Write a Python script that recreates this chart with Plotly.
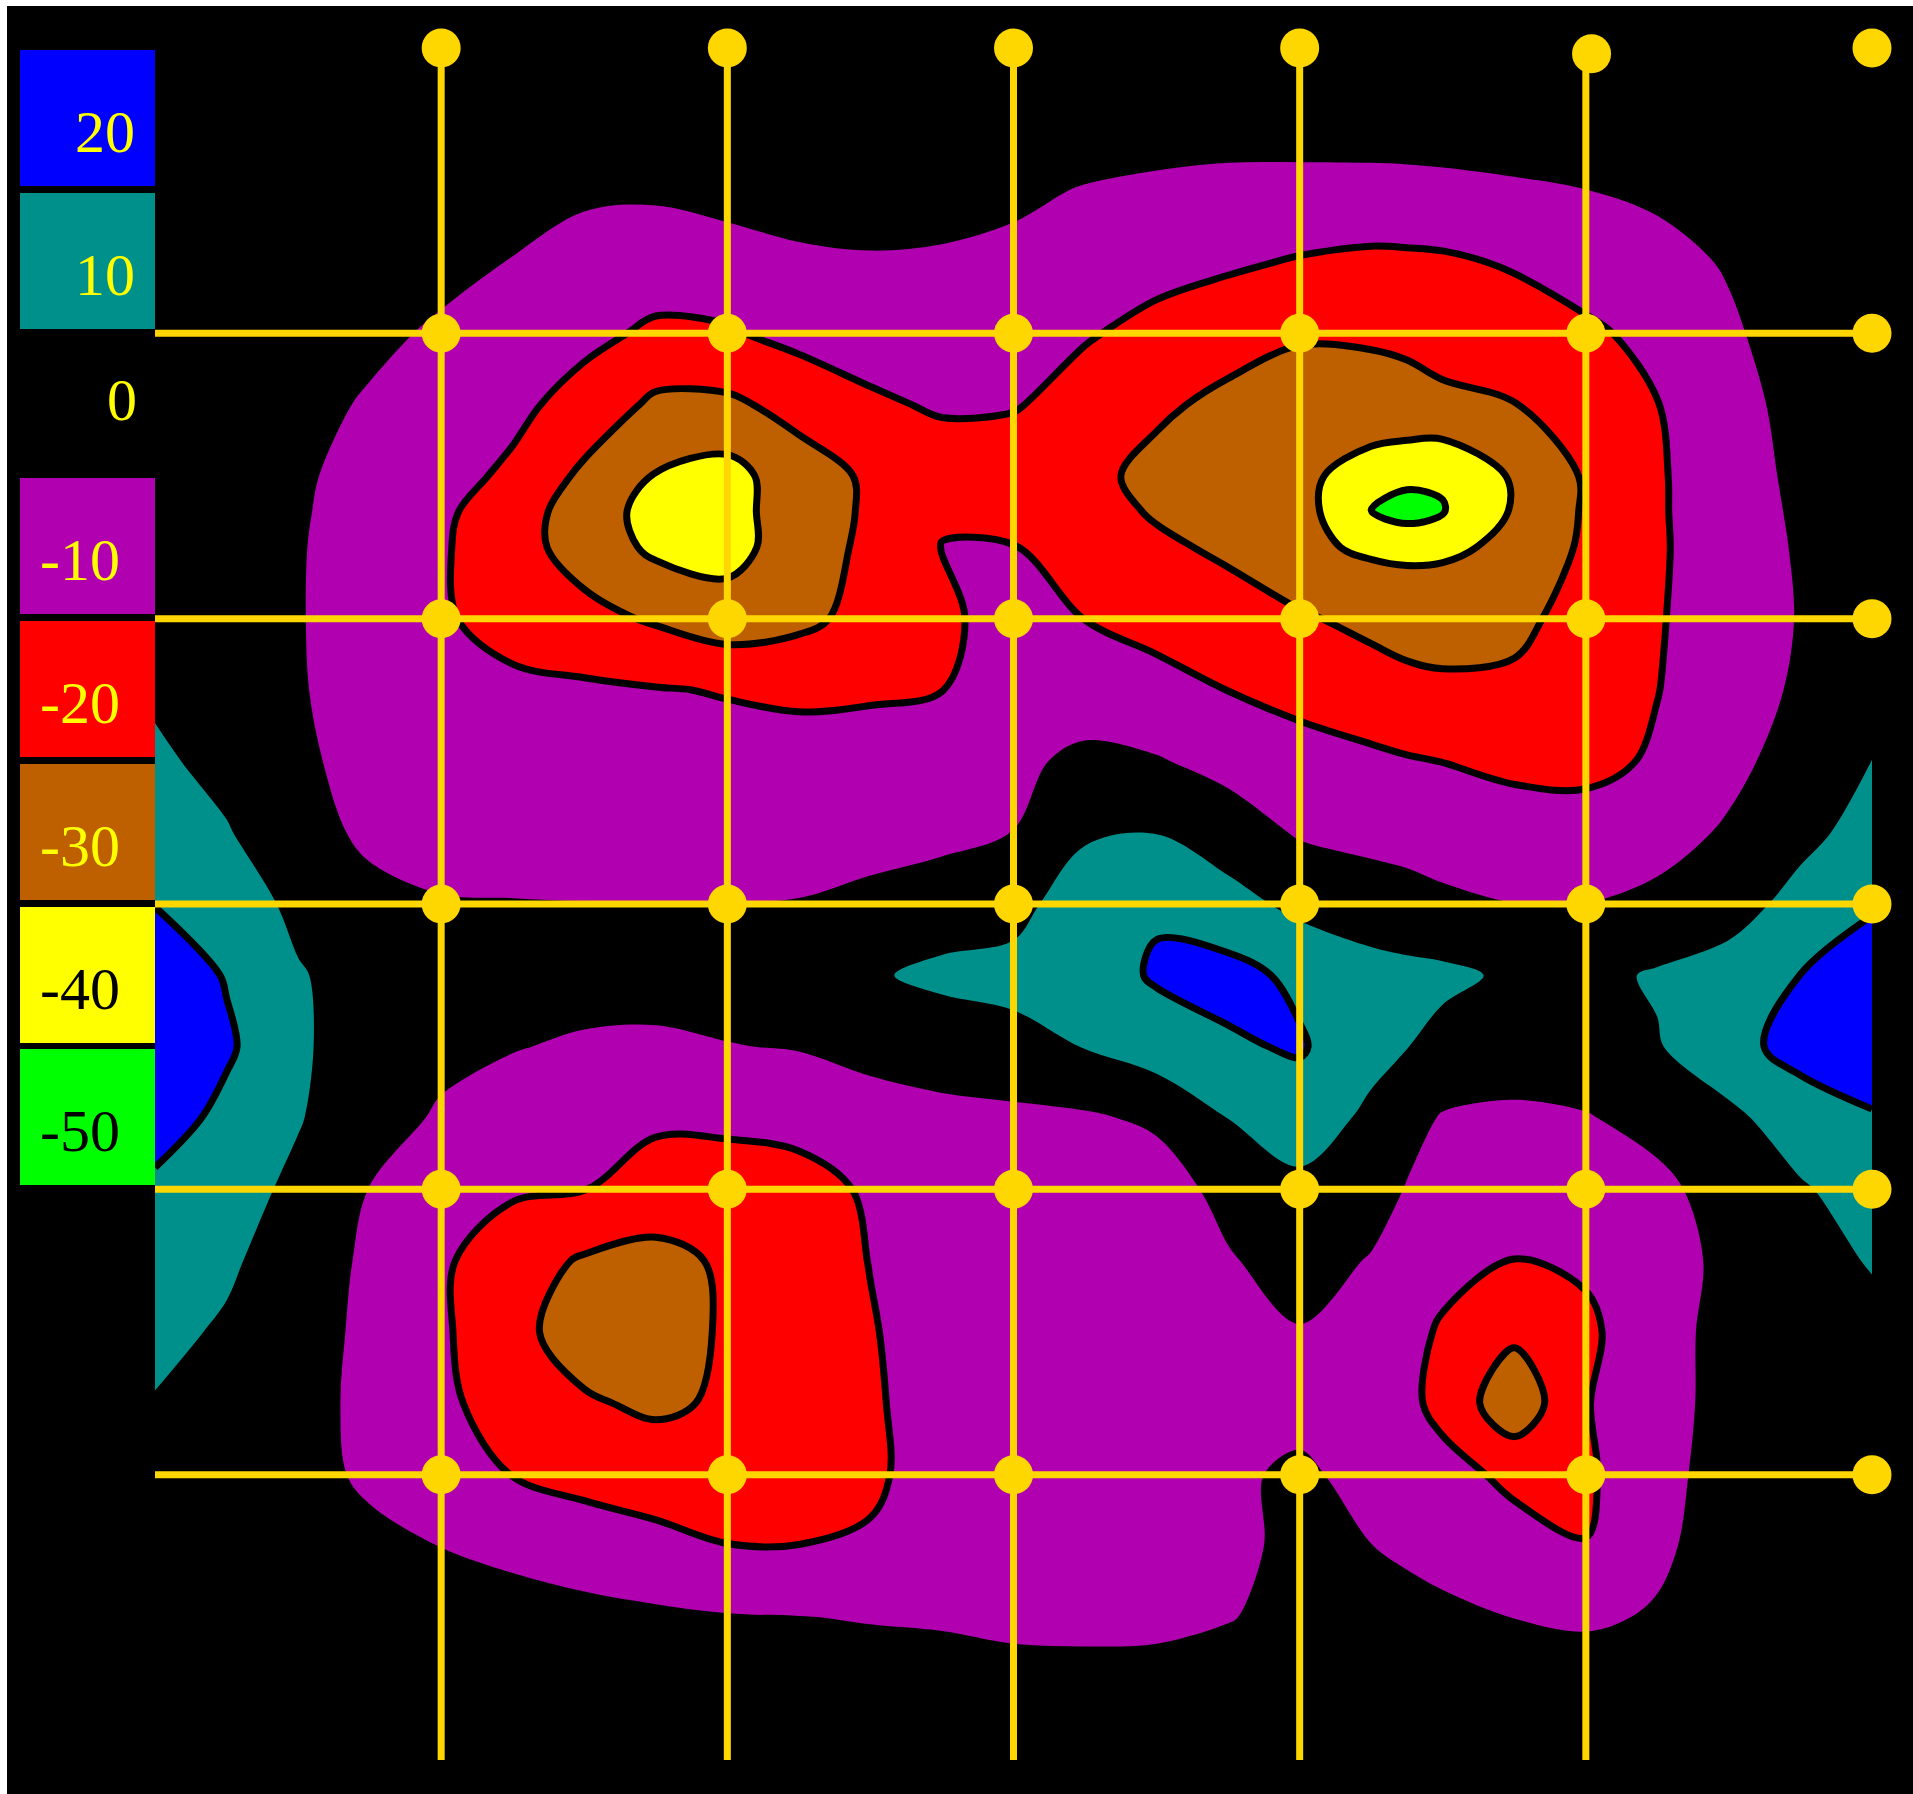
import plotly.graph_objects as go

W, H = 1913, 1794

# ---------------- data ----------------
# grid coordinates, in units of the sensor spacing (0..6 across, 0..6 down)
grid_u = [0, 0.25, 0.5, 0.75, 1, 1.25, 1.5, 1.75, 2, 2.25, 2.5, 2.75, 3,
          3.25, 3.5, 3.75, 4, 4.25, 4.375, 4.5, 4.75, 5, 5.25, 5.5, 5.75, 6]
grid_v = [0, 0.25, 0.5, 0.75, 1, 1.25, 1.5, 1.625, 1.75, 2, 2.25, 2.5, 2.75, 3,
          3.25, 3.5, 3.75, 4, 4.25, 4.5, 4.75, 5, 5.25, 5.5, 5.75, 6]

# field values (rows = grid_v, columns = grid_u)
z_values = [
    [0]*26,
    [0, 0, 0, 0, 0, 0, 0, 0, 0, 0, 0, 0, 0, 0, -0.2, -0.8, -0.5, -0.3, -0.2, 0, 0, 0, 0, 0, 0, 0],
    [0, 0, 0, 0, 0, -1.6, -3.8, -3.7, -2, -0.9, -0.8, -2, -3.4, -5.5, -6.9, -7.7, -8, -8, -7.8, -7.4, -6.2, -5.1, -3.2, -0.6, 0, 0],
    [0, 0, 0, 0, -2.6, -5.3, -7.9, -10, -8.8, -6.6, -5.8, -6, -7, -9.8, -12.1, -13.7, -15.7, -17, -16.8, -16.4, -14.1, -10.8, -8.3, -4.1, 0, 0],
    [0, 0, 0, -3.1, -6.2, -10, -12.6, -16.6, -15.9, -12.2, -10.6, -9.9, -10.6, -14.2, -17.6, -20.7, -24, -24.1, -23.5, -22.2, -19.7, -16.5, -12.5, -6.5, 0, 0],
    [0, 0, -2.3, -5.9, -9.5, -12.7, -18.6, -26.9, -26.8, -21.8, -16.5, -13.9, -14.3, -18.9, -23.2, -27.5, -29.9, -28, -27.5, -26.5, -25.2, -21.8, -15.2, -8.5, -1.8, 0],
    [0, 0, -3.8, -7.9, -11.8, -16.7, -27, -35.5, -38.5, -29.4, -23.6, -20, -21, -22, -28, -31, -32.4, -40, -42.5, -44, -33.8, -24, -16, -9.4, -2.9, 0],
    [0, -0.3, -4.1, -8.7, -13.3, -20.3, -29.8, -38.5, -38, -30.6, -23.5, -16, -16.5, -21, -26, -29, -31, -45.2, -49, -45.5, -34, -24, -16, -9.7, -3.5, 0],
    [0, -0.4, -4.4, -9, -13.9, -21.3, -29, -37, -38.5, -30, -22.9, -14.8, -14.8, -20, -23.2, -26.7, -33, -36.5, -37, -36.5, -33.3, -23.3, -16.1, -10, -4, 0],
    [0, -0.5, -4.5, -9.1, -13.7, -19.4, -22.2, -26.1, -30.4, -27.4, -21.7, -16.9, -11, -15.1, -18.1, -20.6, -23.8, -27.7, -29.2, -29.5, -27.5, -21.1, -15.7, -10.1, -4.5, 0],
    [3.7, 0.2, -4.4, -8.3, -12, -12.5, -13.5, -14.5, -15.5, -16.5, -16, -15.1, -10.5, -9.6, -11.9, -15.1, -17.6, -20, -22.1, -23.1, -23, -20, -15.2, -9.5, -3.6, 0.7],
    [6.5, 2.4, -3.1, -8.6, -11, -10.7, -11, -11.4, -11.6, -11.6, -11.4, -10.7, -6.8, -3.1, -4.3, -7.9, -11.6, -13.4, -14.3, -15.1, -17, -17.5, -13.9, -7.7, -0.7, 5.1],
    [9.6, 5.6, -0.8, -7, -9, -9.5, -9.7, -9.7, -9.8, -9.4, -8.9, -7.5, -4.9, 4.0, 4.8, -0.2, -5.9, -7.9, -8.6, -9.5, -10.8, -11, -8.8, -3.75, 2.8, 8],
    [14.7, 9.9, 2.9, -2.1, -4.35, -4.6, -4.8, -4.8, -4.9, -4.6, -2.4, 0, 2.4, 9.5, 14, 8.5, 2.5, 0, -1.4, -3.1, -4.9, -4.9, -2.6, 1.75, 7.6, 13.8],
    [22, 14.3, 5.7, 1.2, -1, -1, -1.5, -1.5, -1.2, 0, 4, 7, 7.5, 10.5, 16, 18, 13, 8.3, 7.5, 7, 3.5, 2.5, 6, 8.2, 15.1, 21],
    [25, 16.5, 6.3, 0.3, -2.7, -4.6, -6.1, -6.5, -5.3, -4.5, -1.7, -0.4, 2.4, 5.3, 10.2, 13.7, 16, 7.5, 5.2, 2.1, -0.6, 0, 4.3, 12.1, 18, 24],
    [20, 12.3, 5.6, -1.1, -6.1, -9, -10.4, -13.2, -12.9, -12, -9.7, -7.5, -7.2, -6.2, -3.5, 5.1, 9.5, 3.3, -1.8, -5.7, -6.5, -5.5, -2.4, 2.6, 10.5, 13.7],
    [12.8, 8.8, 3, -5.2, -11.7, -13.8, -14.8, -19.9, -20, -18.5, -13.8, -10, -11, -10.5, -9.4, -2.1, 2.9, -0.8, -5.5, -8, -10.8, -9.5, -7, -1.5, 3.9, 9.7],
    [9.3, 6.4, 0.4, -6.7, -13.6, -20.7, -26, -27.5, -23.8, -19.3, -14.8, -11.5, -12, -11.5, -10, -5.8, -1, -5.6, -9.4, -12.4, -15.1, -13.6, -9.1, -2.7, 1.7, 5.6],
    [7.3, 3.9, -0.9, -7.1, -13.5, -22.6, -29, -29.5, -23.8, -19.7, -15.5, -11.5, -12, -12, -11, -9, -5.5, -9.3, -12.5, -16, -23, -16.9, -8.5, -2, 0.5, 2.5],
    [4.5, 1.7, -2.1, -7, -12.5, -20.6, -24, -26.5, -23.8, -19.5, -16, -11.5, -12, -12, -11.5, -9, -7.8, -10, -13, -17.5, -32, -15.5, -7.8, -2.5, -0.5, 0],
    [1.5, 0, -2, -6.4, -10.4, -15.2, -18.1, -20, -20.5, -19.5, -16.5, -11, -11.5, -11.5, -10.5, -6.5, -3.5, -7.8, -10, -12, -17, -16.5, -7.3, -2, 0, 0],
    [0, 0, -1, -3, -5.1, -7.2, -9.6, -12.1, -14.8, -14.9, -14, -10, -10, -10, -9.5, -6.5, -3.5, -4.9, -6.5, -8.2, -11.5, -14.8, -6.2, -2, 0, 0],
    [0, 0, 0, 0, -0.2, -1.4, -2.4, -3.4, -4.4, -4.8, -5.5, -6, -7, -7.2, -7, -5.4, -2.5, -1, -2, -3, -5.1, -6, -4.4, -1, 0, 0],
    [0, 0, 0, 0, 0, 0, 0, 0, 0, 0, -0.4, -0.8, -1.6, -1.8, -1.6, -0.6, 0, 0, 0, 0, 0, -1, 0, 0, 0, 0],
    [0]*26,
]

# colour classes (legend)
legend_labels = ["20", "10", "0", "-10", "-20", "-30", "-40", "-50"]
legend_fill = ["#0000FF", "#00908C", None, "#B000B0", "#FF0000", "#BE6000", "#FFFF00", "#00FF00"]
legend_text_color = ["#FFFF00", "#FFFF00", "#FFFF00", "#FFFF00", "#FFFF00", "#FFFF00", "#000000", "#000000"]

# filled classes: region below / above a threshold, and its colour
band_side = ["below", "below", "below", "below", "below", "above", "above"]
band_thresholds = [-5, -15, -25, -35, -45, 5, 15]
band_colors = ["#B000B0", "#FF0000", "#BE6000", "#FFFF00", "#00FF00", "#00908C", "#0000FF"]
# outlined thresholds
outline_thresholds = [-15, -25, -35, -45, 15]

# sensor grid
sensor_u = [1, 2, 3, 4, 5, 6]
sensor_v = [0, 1, 2, 3, 4, 5]
line_u = [1, 2, 3, 4, 5]
line_v = [1, 2, 3, 4, 5]

GOLD = "#FFD700"

# ---------------- figure ----------------
fig = go.Figure()

# plotly shades the region that violates a constraint, so to paint z < thr
# we ask for the constraint "z > thr" (and vice versa)
for side, thr, col in zip(band_side, band_thresholds, band_colors):
    op = ">" if side == "below" else "<"
    fig.add_trace(go.Contour(
        x=grid_u, y=grid_v, z=z_values,
        contours=dict(type="constraint", operation=op, value=thr),
        fillcolor=col, line=dict(width=0, smoothing=1),
        showscale=False, hoverinfo="skip", showlegend=False))

for thr in outline_thresholds:
    fig.add_trace(go.Contour(
        x=grid_u, y=grid_v, z=z_values,
        contours=dict(type="constraint", operation="<", value=thr),
        fillcolor="rgba(0,0,0,0)", line=dict(width=7, color="#000000", smoothing=1),
        showscale=False, hoverinfo="skip", showlegend=False))

# grid lines
gx, gy = [], []
for u in line_u:
    gx += [u, u, None]
    gy += [0, 6, None]
for v in line_v:
    gx += [0, 6, None]
    gy += [v, v, None]
fig.add_trace(go.Scatter(x=gx, y=gy, mode="lines", line=dict(color=GOLD, width=7),
                         hoverinfo="skip", showlegend=False, cliponaxis=False))

# sensor dots
dot_u, dot_v = [], []
for v in sensor_v:
    for u in sensor_u:
        if (u, v) == (5, 0):
            dot_u.append(5.02)
            dot_v.append(0.02)
        else:
            dot_u.append(u)
            dot_v.append(v)
fig.add_trace(go.Scatter(x=dot_u, y=dot_v, mode="markers",
                         marker=dict(color=GOLD, size=39, line=dict(width=0)),
                         hoverinfo="skip", showlegend=False, cliponaxis=False))

# ---------------- layout ----------------
X0, X1 = 155, 1872   # plot area in pixels
Y0, Y1 = 48, 1760

shapes = []
# white frame strips (top and left)
shapes.append(dict(type="rect", xref="paper", yref="paper", x0=0, x1=7 / W, y0=0, y1=1,
                   fillcolor="white", line=dict(width=0), layer="above"))
shapes.append(dict(type="rect", xref="paper", yref="paper", x0=0, x1=1, y0=1 - 6 / H, y1=1,
                   fillcolor="white", line=dict(width=0), layer="above"))

legend_tops = [50, 193, 336, 478, 621, 764, 907, 1049]
legend_text_y = [132, 275, 400, 560, 703, 846, 989, 1131]
legend_text_right = [137, 137, 139, 122, 122, 122, 122, 122]
annotations = []
for lab, fc, tc, top, ty, tr in zip(legend_labels, legend_fill, legend_text_color,
                                     legend_tops, legend_text_y, legend_text_right):
    if fc is not None:
        shapes.append(dict(type="rect", xref="paper", yref="paper",
                           x0=20 / W, x1=155 / W, y0=1 - (top + 136) / H, y1=1 - top / H,
                           fillcolor=fc, line=dict(width=0), layer="below"))
    annotations.append(dict(text=lab, xref="paper", yref="paper", x=tr / W, y=1 - ty / H,
                            xanchor="right", yanchor="middle", showarrow=False,
                            font=dict(family="Liberation Serif", size=60, color=tc)))

fig.update_layout(
    width=W, height=H,
    margin=dict(l=0, r=0, t=0, b=0),
    paper_bgcolor="#000000", plot_bgcolor="#000000",
    xaxis=dict(domain=[X0 / W, X1 / W], range=[0, 6], visible=False, fixedrange=True),
    yaxis=dict(domain=[1 - Y1 / H, 1 - Y0 / H], range=[6, 0], visible=False, fixedrange=True),
    shapes=shapes, annotations=annotations, showlegend=False,
)

fig.write_html("out.html")
